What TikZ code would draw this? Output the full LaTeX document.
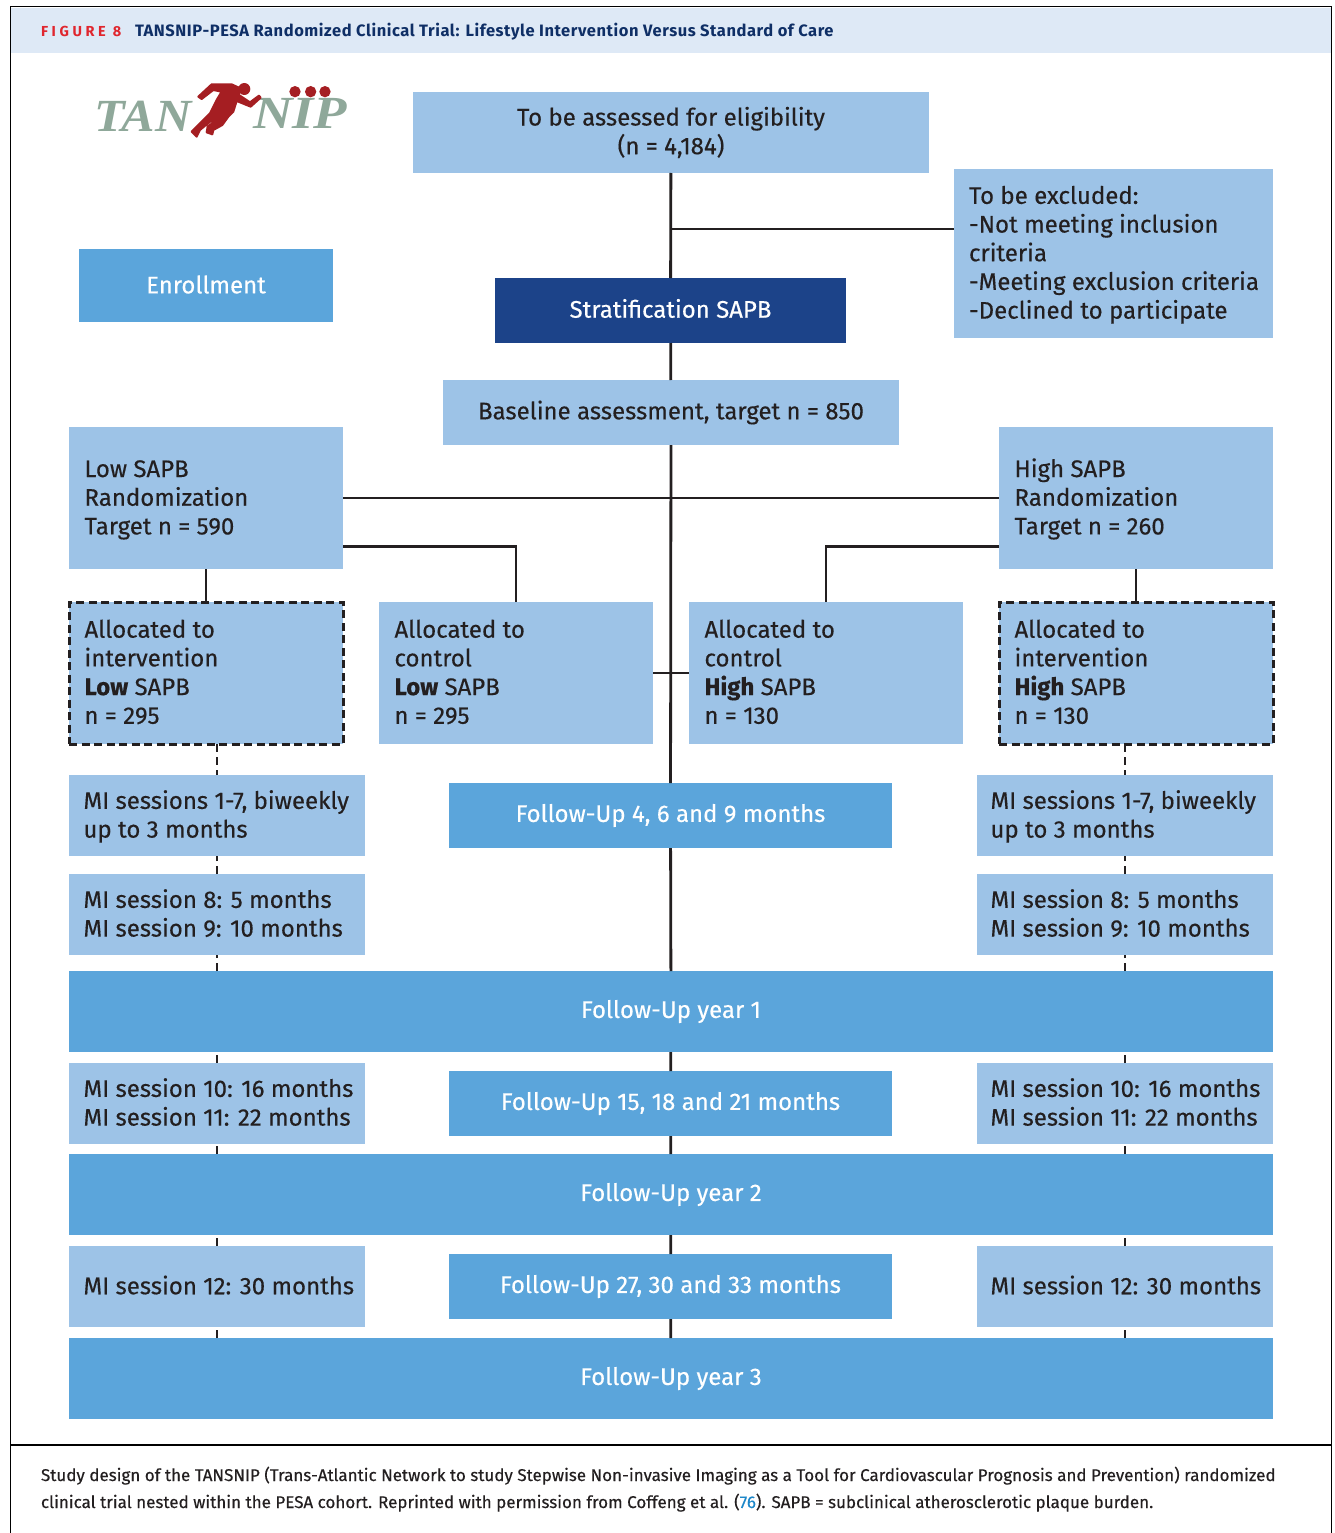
\documentclass[tikz,border=0pt]{standalone}
\usepackage{graphicx}
\usepackage{fontspec}
\setmainfont{Fira Sans}[RawFeature={embolden=0.35},BoldFeatures={RawFeature={}}]
\newfontfamily\logofont{Liberation Serif}
\newfontfamily\redfont[LetterSpace=25]{Fira Sans}
\newfontfamily\titlefont[LetterSpace=3.4]{Fira Sans}
\definecolor{lightb}{HTML}{9DC3E7}
\definecolor{midb}{HTML}{5BA5DB}
\definecolor{darkb}{HTML}{1C4389}
\definecolor{band}{HTML}{DEE9F6}
\definecolor{navy}{HTML}{0F2F66}
\definecolor{redt}{HTML}{E0262E}
\definecolor{inkc}{HTML}{231F20}
\definecolor{logog}{HTML}{8FA89A}
\definecolor{logor}{HTML}{A51E22}
\definecolor{linkb}{HTML}{1C87C9}
\tikzset{
 every node/.style={inner sep=0pt,outer sep=0pt},
 bigfont/.style={font=\fontsize{24}{28.7}\selectfont},
 lightbox/.style={fill=lightb,text=inkc,bigfont},
 midbox/.style={fill=midb,text=white,bigfont},
 darkbox/.style={fill=darkb,text=white,bigfont},
 dashbox/.style={fill=lightb,text=inkc,bigfont,draw=inkc,line width=3pt,dash pattern=on 8pt off 4.5pt},
 solidc/.style={draw=inkc,line width=2.8pt},
 dashc/.style={draw=inkc,line width=2.8pt,dash pattern=on 8pt off 5pt},
 logotext/.style={text=logog,font=\logofont\bfseries\itshape\fontsize{46}{46}\selectfont},
}
% centred box: style, name, x0,y0,x1,y1, text
\newcommand\cbx[7]{\node[#1,align=center,minimum width={#5-#3},minimum height={#6-#4}] (#2) at ({(#3+#5)/2},{(#4+#6)/2}) {#7};}
% left-set box: style, name, x0,y0,x1,y1, inset, text
\newcommand\lbx[8]{\pgfmathsetmacro\bxw{#5-#3}\node[#1,minimum width={#5-#3},minimum height={#6-#4}] (#2) at ({(#3+#5)/2},{(#4+#6)/2}) {\makebox[\bxw pt][l]{\hspace*{#7pt}\raisebox{-2pt}[\height][\depth]{\begin{tabular}{@{}l@{}}#8\end{tabular}}}};}
\newcommand\upby[2]{\raisebox{#1pt}[\height][\depth]{#2}}
\begin{document}
\begin{tikzpicture}[x=1pt,y=-1pt]
\useasboundingbox (0,0) rectangle (1335,1533);
\fill[white] (0,0) rectangle (1335,1533);
% frame and header
\fill[band] (11,8) rectangle (1331,53);
\draw[black,line width=1.8pt] (10.5,1533) -- (10.5,6.5) -- (1331.5,6.5) -- (1331.5,1533);
\draw[black,line width=1.8pt] (10.5,1445) -- (1331.5,1445);
\node[anchor=base west,text=redt,font=\redfont\bfseries\fontsize{14.5}{15}\selectfont] (figno) at (41,36.5) {FIGURE 8};
\node[anchor=base west,text=navy,font=\titlefont\bfseries\fontsize{16.5}{17}\selectfont] (title) at (135,36.5) {TANSNIP-PESA Randomized Clinical Trial: Lifestyle Intervention Versus Standard of Care};
% logo
\node[logotext,anchor=base west] (logotan) at (94,132) {\scalebox{1.09}[1]{TAN}};
\node[logotext,anchor=base west] (logonip) at (253,129) {\scalebox{1.19}[1]{NIP}};
\begin{scope}[shift={(85,75)},x=0.3333pt,y=-0.3333pt]
\fill[logor] (630,50) circle (17) (677,50) circle (17) (720,50) circle (17) (478,42) circle (18);
\filldraw[logor,line width=2pt,line join=round] (340,65) -- (380,28) -- (440,28) -- (462,38) -- (462,60) -- (495,82) -- (522,62) -- (527,68) -- (497,95) -- (455,78) -- (445,110) -- (430,125) -- (412,150) -- (385,165) -- (382,178) -- (365,172) -- (368,155) -- (395,135) -- (375,140) -- (345,165) -- (335,185) -- (320,170) -- (335,155) -- (375,115) -- (395,75) -- (410,50) -- (385,45) -- (350,72) -- cycle;
\end{scope}
% boxes
\cbx{lightbox}{elig}{413}{92}{929}{173}{To be assessed for eligibility\\(n = 4,184)}
\lbx{lightbox}{excl}{954}{169}{1273}{338}{15}{To be excluded:\\-Not meeting inclusion\\criteria\\-Meeting exclusion criteria\\-Declined to participate}
\cbx{midbox}{enrol}{79}{249}{333}{322}{\upby{1}{Enrollment}}
\cbx{darkbox}{strat}{495}{278}{846}{343}{\upby{2}{Stratification SAPB}}
\cbx{lightbox}{base}{443}{380}{899}{445}{Baseline assessment, target n = 850}
\lbx{lightbox}{low}{69}{427}{343}{569}{15.5}{Low SAPB\\Randomization\\Target n = 590}
\lbx{lightbox}{high}{999}{427}{1273}{569}{15.5}{High SAPB\\Randomization\\Target n = 260}
\lbx{dashbox}{intlow}{69}{602}{343}{744}{15.5}{Allocated to\\intervention\\\textbf{Low} SAPB\\n = 295}
\lbx{lightbox}{ctllow}{379}{602}{653}{744}{15.5}{Allocated to\\control\\\textbf{Low} SAPB\\n = 295}
\lbx{lightbox}{ctlhigh}{689}{602}{963}{744}{15.5}{Allocated to\\control\\\textbf{High} SAPB\\n = 130}
\lbx{dashbox}{inthigh}{999}{602}{1273}{744}{15.5}{Allocated to\\intervention\\\textbf{High} SAPB\\n = 130}
\lbx{lightbox}{mia}{69}{775}{365}{856}{14.5}{MI sessions 1-7, biweekly\\up to 3 months}
\lbx{lightbox}{mib}{69}{874}{365}{955}{14.5}{MI session 8: 5 months\\MI session 9: 10 months}
\lbx{lightbox}{mic}{69}{1063}{365}{1144}{14.5}{MI session 10: 16 months\\MI session 11: 22 months}
\lbx{lightbox}{mid}{69}{1246}{365}{1327}{14.5}{MI session 12: 30 months}
\lbx{lightbox}{mra}{977}{775}{1273}{856}{13.5}{MI sessions 1-7, biweekly\\up to 3 months}
\lbx{lightbox}{mrb}{977}{874}{1273}{955}{13.5}{MI session 8: 5 months\\MI session 9: 10 months}
\lbx{lightbox}{mrc}{977}{1063}{1273}{1144}{13.5}{MI session 10: 16 months\\MI session 11: 22 months}
\lbx{lightbox}{mrd}{977}{1246}{1273}{1327}{13.5}{MI session 12: 30 months}
\cbx{midbox}{fua}{449}{783}{892}{848}{Follow-Up 4, 6 and 9 months}
\cbx{midbox}{fub}{449}{1071}{892}{1136}{Follow-Up 15, 18 and 21 months}
\cbx{midbox}{fuc}{449}{1254}{892}{1319}{Follow-Up 27, 30 and 33 months}
\cbx{midbox}{ya}{69}{971}{1273}{1052}{Follow-Up year 1}
\cbx{midbox}{yb}{69}{1154}{1273}{1235}{Follow-Up year 2}
\cbx{midbox}{yc}{69}{1338}{1273}{1419}{Follow-Up year 3}
% junction helpers
\coordinate (jexcl) at (671,229);
\coordinate (jlow) at (343,546.5);
\coordinate (jhigh) at (999,546.5);
% solid connectors
\draw[solidc] (elig) -- (strat);
\draw[solidc] (excl.west |- jexcl) -- (jexcl);
\draw[solidc] (strat) -- (base);
\draw[solidc] (base) -- (fua);
\draw[solidc] (low.east) -- (high.west);
\draw[solidc] (jlow) -| (ctllow.north);
\draw[solidc] (jhigh) -| (ctlhigh.north);
\draw[solidc] (low.south) -- (intlow.north);
\draw[solidc] (high.south -| inthigh.north) -- (inthigh.north);
\draw[solidc] (ctllow.east) -- (ctlhigh.west);
\draw[solidc] (fua) -- (ya);
\draw[solidc] (ya) -- (fub);
\draw[solidc] (fub) -- (yb);
\draw[solidc] (yb) -- (fuc);
\draw[solidc] (fuc) -- (yc);
% dashed connectors, drawn from the end that carries a stub
\draw[dashc] (mia.north |- intlow.south) -- (mia.north);
\draw[dashc] (mib.north) -- (mia.south);
\draw[dashc] (mib.south |- ya.north) -- (mib.south);
\draw[dashc] (mic.north) -- (mib.south |- ya.south);
\draw[dashc] (mic.south |- yb.north) -- (mic.south);
\draw[dashc] (mid.north) -- (mic.south |- yb.south);
\draw[dashc] (mid.south |- yc.north) -- (mid.south);
\draw[dashc] (mra.north |- inthigh.south) -- (mra.north);
\draw[dashc] (mrb.north) -- (mra.south);
\draw[dashc] (mrb.south |- ya.north) -- (mrb.south);
\draw[dashc] (mrc.north) -- (mrb.south |- ya.south);
\draw[dashc] (mrc.south |- yb.north) -- (mrc.south);
\draw[dashc] (mrd.north) -- (mrc.south |- yb.south);
\draw[dashc] (mrd.south |- yc.north) -- (mrd.south);
% caption
\node[anchor=base west,text=inkc,font=\fontsize{17}{27}\selectfont,align=left] (cap) at (41,1508) {Study design of the TANSNIP (Trans-Atlantic Network to study Stepwise Non-invasive Imaging as a Tool for Cardiovascular Prognosis and Prevention) randomized\\clinical trial nested within the PESA cohort. Reprinted with permission from Coffeng et al. ({\color{linkb}76}). SAPB = subclinical atherosclerotic plaque burden.};
\end{tikzpicture}
\end{document}
